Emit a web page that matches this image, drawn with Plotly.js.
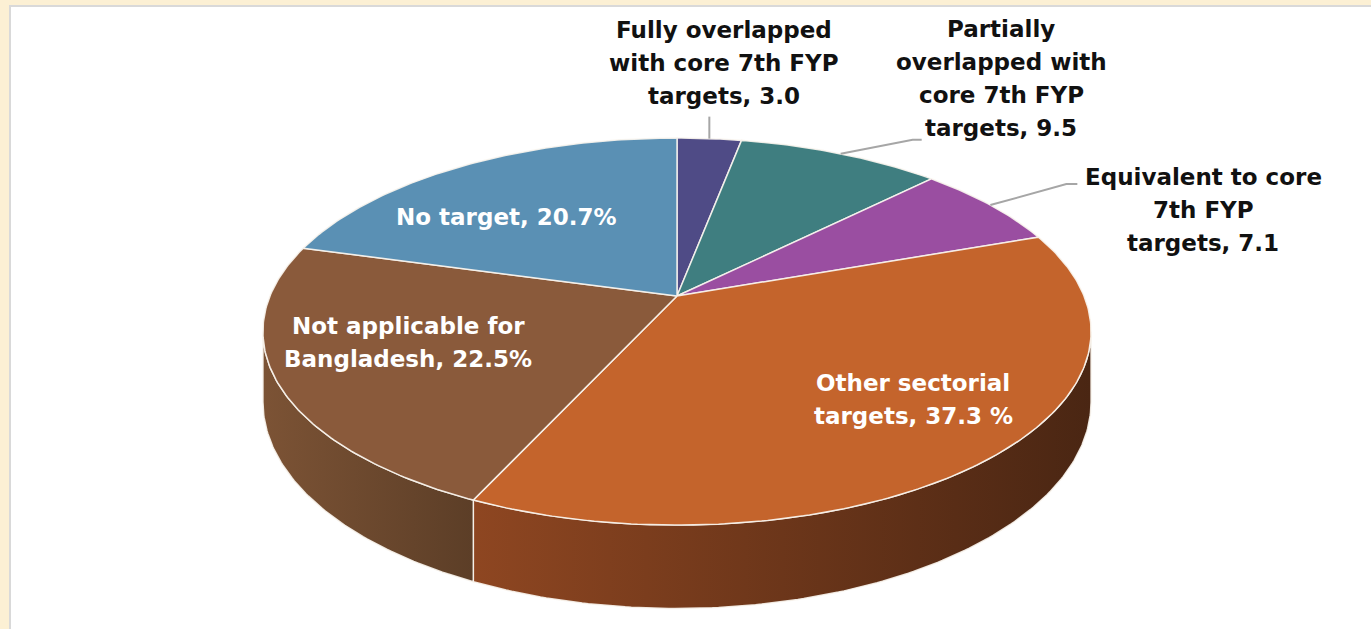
<!DOCTYPE html>
<html>
<head>
<meta charset="utf-8">
<script src="https://cdn.plot.ly/plotly-3.0.1.min.js"></script>
<style>html,body{margin:0;padding:0;background:#fcf0d4;}#chart{width:1371px;height:629px;}</style>
</head>
<body>
<div id="chart"></div>
<script>
// ---- data ----
const categories = [
  'Fully overlapped<br>with core 7th FYP<br>targets',
  'Partially<br>overlapped with<br>core 7th FYP<br>targets',
  'Equivalent to core<br>7th FYP<br>targets',
  'Other sectorial<br>targets',
  'Not applicable for<br>Bangladesh',
  'No target'
];
const values = [3.0, 9.5, 7.1, 37.3, 22.5, 20.7];
const valueSuffix = ['', '', '', ' %', '%', '%'];

// ---- styles ----
const topColors = ['#4f4b86', '#3f7e80', '#9a4ea1', '#c4642c', '#8a5a3b', '#5a90b4'];
const sideColors = [
  ['#3a3766', '#2a2850'], ['#2f5f60', '#224546'], ['#74397a', '#55295a'],
  ['#8e4621', '#4a2613'], ['#7c5335', '#5c3e27'], ['#436c88', '#304f63']
];
const labelColors = ['#111111', '#111111', '#111111', '#ffffff', '#ffffff', '#ffffff'];
const labelPos = [[724, 63], [1001, 78], [1203, 210], [913, 399], [408, 342], [506, 217]];
const leaderOffsets = [[[0, -22]], [[72, -14], [81, -14]], [[76, -21], [87, -21]], null, null, null];
const LINE_H = 33;
const FONT = 'DejaVu Sans, sans-serif';

// ---- geometry of the tilted pie ----
const CX = 677, CY = 296, RX = 407, RY = 187, D = 5.44, H = 68;
function proj(phi, down) {
  const X = Math.sin(phi), Z = -Math.cos(phi);
  const w = D / (D - Z);
  return [CX + RX * X * w, CY + RY * Z * w + (down ? H * w : 0)];
}
function arc(a, b, down) {
  const n = Math.max(6, Math.ceil((b - a) / (2 * Math.PI) * 500));
  const pts = [];
  for (let i = 0; i <= n; i++) pts.push(proj(a + (b - a) * i / n, down));
  return pts;
}

const total = values.reduce((s, v) => s + v, 0);
const angles = [];
let acc = 0;
values.forEach(v => { const a = acc / total * 2 * Math.PI; acc += v; angles.push([a, acc / total * 2 * Math.PI]); });

const phiR = Math.acos(-1 / D), phiL = 2 * Math.PI - phiR;
const traces = [];
const edge = {color: 'rgba(250,245,238,0.9)', width: 1.5};

// side walls
angles.forEach(([a, b], i) => {
  const s = Math.max(a, phiR), e = Math.min(b, phiL);
  if (s >= e) return;
  const pts = arc(s, e, false).concat(arc(s, e, true).reverse());
  pts.push(pts[0]);
  traces.push({
    type: 'scatter', mode: 'lines', x: pts.map(p => p[0]), y: pts.map(p => p[1]),
    fill: 'toself', line: edge,
    fillgradient: {type: 'horizontal', colorscale: [[0, sideColors[i][0]], [1, sideColors[i][1]]]},
    hoverinfo: 'skip', showlegend: false
  });
});

// top faces
angles.forEach(([a, b], i) => {
  const pts = [[CX, CY]].concat(arc(a, b, false));
  pts.push([CX, CY]);
  traces.push({
    type: 'scatter', mode: 'lines', x: pts.map(p => p[0]), y: pts.map(p => p[1]),
    fill: 'toself', fillcolor: topColors[i], line: edge,
    hoverinfo: 'skip', showlegend: false
  });
});

// leader lines
angles.forEach(([a, b], i) => {
  if (!leaderOffsets[i]) return;
  const p = proj((a + b) / 2, false);
  const pts = [p].concat(leaderOffsets[i].map(o => [p[0] + o[0], p[1] + o[1]]));
  traces.push({
    type: 'scatter', mode: 'lines', x: pts.map(q => q[0]), y: pts.map(q => q[1]),
    line: {color: '#a6a6a6', width: 2}, hoverinfo: 'skip', showlegend: false
  });
});

// labels (one annotation per line)
const annotations = [];
categories.forEach((c, i) => {
  const text = c + ', ' + values[i].toFixed(1) + valueSuffix[i];
  const lines = text.split('<br>');
  const y0 = labelPos[i][1] - (lines.length - 1) * LINE_H / 2;
  lines.forEach((ln, k) => {
    annotations.push({
      x: labelPos[i][0], y: y0 + k * LINE_H, xref: 'x', yref: 'y', text: ln,
      showarrow: false, xanchor: 'center', yanchor: 'middle',
      font: {family: FONT, size: 23, color: labelColors[i], weight: 'bold'}
    });
  });
});

const layout = {
  width: 1371, height: 629,
  margin: {l: 0, r: 0, t: 0, b: 0},
  paper_bgcolor: '#fcf0d4', plot_bgcolor: 'rgba(0,0,0,0)',
  xaxis: {range: [0, 1371], visible: false, fixedrange: true},
  yaxis: {range: [629, 0], visible: false, fixedrange: true},
  shapes: [{type: 'rect', xref: 'x', yref: 'y', x0: 10, y0: 6, x1: 1380, y1: 640,
            fillcolor: '#ffffff', line: {color: '#d9d9d9', width: 2}, layer: 'below'}],
  annotations: annotations,
  showlegend: false
};

Plotly.newPlot('chart', traces, layout, {staticPlot: true, displayModeBar: false});
</script>
</body>
</html>
